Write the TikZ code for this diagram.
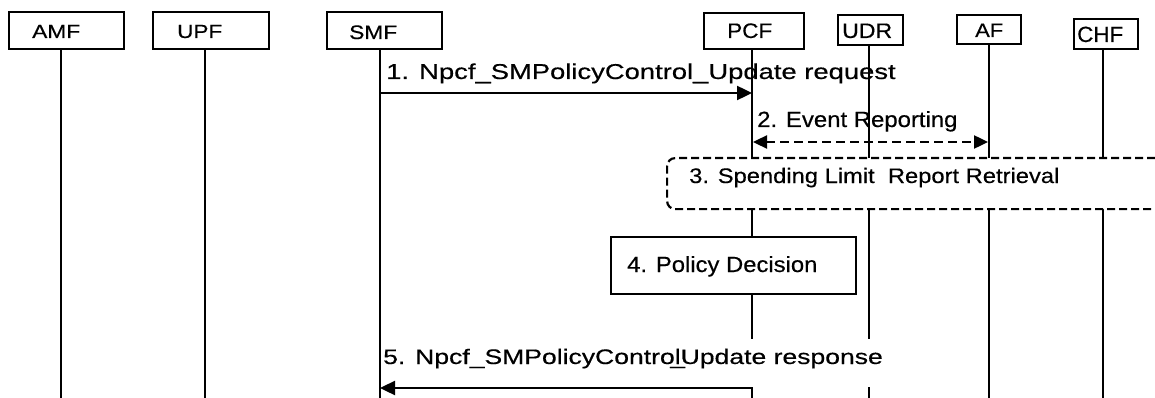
\documentclass[tikz,border=0pt]{standalone}
\usepackage{fontspec}
\setmainfont{Liberation Sans}[FakeBold=0.35]
\usetikzlibrary{arrows.meta}
\newcommand{\fw}[3]{{\fontsize{#1pt}{#1pt}\selectfont\scalebox{#2}[1]{#3}}}
\begin{document}
\begin{tikzpicture}[x=1pt,y=-1pt,
  nfbox/.style={draw, line width=1.2pt, inner sep=0pt, fill=white},
  nfthick/.style={nfbox, line width=2pt},
  lbl/.style={anchor=base west, inner sep=0pt},
  life/.style={line width=1.7pt},
  msg/.style={line width=2.4pt, -{Triangle[length=15pt,width=14pt]}},
  dmsg/.style={line width=2.4pt, dash pattern=on 9pt off 5pt,
    {Triangle[length=14pt,width=13pt]}-{Triangle[length=14pt,width=13pt]}},
  dbox/.style={draw, line width=2.2pt, dash pattern=on 8pt off 4pt, rounded corners=8pt, fill=white},
  pbox/.style={draw, line width=1.6pt, fill=white, inner sep=0pt}
]
\useasboundingbox (0,0) rectangle (1155,398);
\clip (0,0) rectangle (1155,398);
\fill[white] (0,0) rectangle (1155,398);

% lifelines
\coordinate (amfT) at (61,49);   \coordinate (amfB) at (61,400);
\coordinate (upfT) at (205,49);  \coordinate (upfB) at (205,400);
\coordinate (smfT) at (380,49);  \coordinate (smfB) at (380,400);
\coordinate (pcfT) at (752,49);  \coordinate (pcfB) at (752,400);
\coordinate (udrT) at (869,45);  \coordinate (udrB) at (869,400);
\coordinate (afT) at (989,44);   \coordinate (afB) at (989,400);
\coordinate (chfT) at (1103,49); \coordinate (chfB) at (1103,400);
\foreach \n in {amf,upf,smf,pcf,udr,af,chf}{\draw[life] (\n T) -- (\n B);}

% entity boxes
\node[nfbox, minimum width=115pt, minimum height=37pt] (amf) at (66.5,30.5) {};
\node[nfbox, minimum width=116pt, minimum height=37pt] (upf) at (211,30.5) {};
\node[nfbox, minimum width=115pt, minimum height=37pt] (smf) at (384.5,30.5) {};
\node[nfbox, minimum width=100pt, minimum height=36pt] (pcf) at (754,31) {};
\node[nfthick, minimum width=65pt, minimum height=30pt] (udr) at (870.5,30) {};
\node[nfthick, minimum width=64pt, minimum height=29pt] (af) at (989,29.5) {};
\node[nfthick, minimum width=64pt, minimum height=30pt] (chf) at (1106,34) {};

\node[lbl] (amfL) at (32,38) {\fw{19}{1.197}{AMF}};
\node[lbl] (upfL) at (177,38) {\fw{19}{1.184}{UPF}};
\node[lbl] (smfL) at (349,39) {\fw{19.5}{1.165}{SMF}};
\node[lbl] (pcfL) at (727,38) {\fw{21}{1.071}{PCF}};
\node[lbl] (udrL) at (842,38) {\fw{21}{1.099}{UDR}};
\node[lbl] (afL) at (975,37) {\fw{19.5}{1.124}{AF}};
\node[lbl] (chfL) at (1077,42) {\fw{22}{1.018}{CHF}};

% 1
\coordinate (m1a) at (380,93); \coordinate (m1b) at (752,93);
\draw[msg] (m1a) -- (m1b);
\node[lbl] (m1L) at (386,79) {\fw{21.5}{1.274}{1. Npcf\_SMPolicyControl\_Update request}};

% 2
\coordinate (m2a) at (753,142); \coordinate (m2b) at (988,142);
\draw[dmsg] (m2a) -- (m2b);
\node[lbl] (m2L) at (757,127) {\fw{22}{1.087}{2. Event Reporting}};

% 3
\node[dbox, anchor=north west, minimum width=520pt, minimum height=51pt, inner sep=0pt] (slr) at (666,157) {};
\node[lbl] (slrL) at (689,183) {\fw{21}{1.130}{3. Spending Limit\ \ Report Retrieval}};

% 4
\node[pbox, minimum width=245pt, minimum height=57pt] (pd) at (733.5,265.5) {};
\node[lbl] (pdL) at (627,272) {\fw{22}{1.083}{4. Policy Decision}};

% 5
\node[lbl, fill=white, text height=25pt, text depth=23pt] (m5L) at (383,364)
  {\fw{21}{1.264}{5. Npcf\_SMPolicyContro\makebox[0pt][l]{\kern-0.167em\_}lUpdate response}};
\coordinate (m5a) at (752,388); \coordinate (m5b) at (380,388);
\draw[msg] (m5a) -- (m5b);
\end{tikzpicture}
\end{document}
